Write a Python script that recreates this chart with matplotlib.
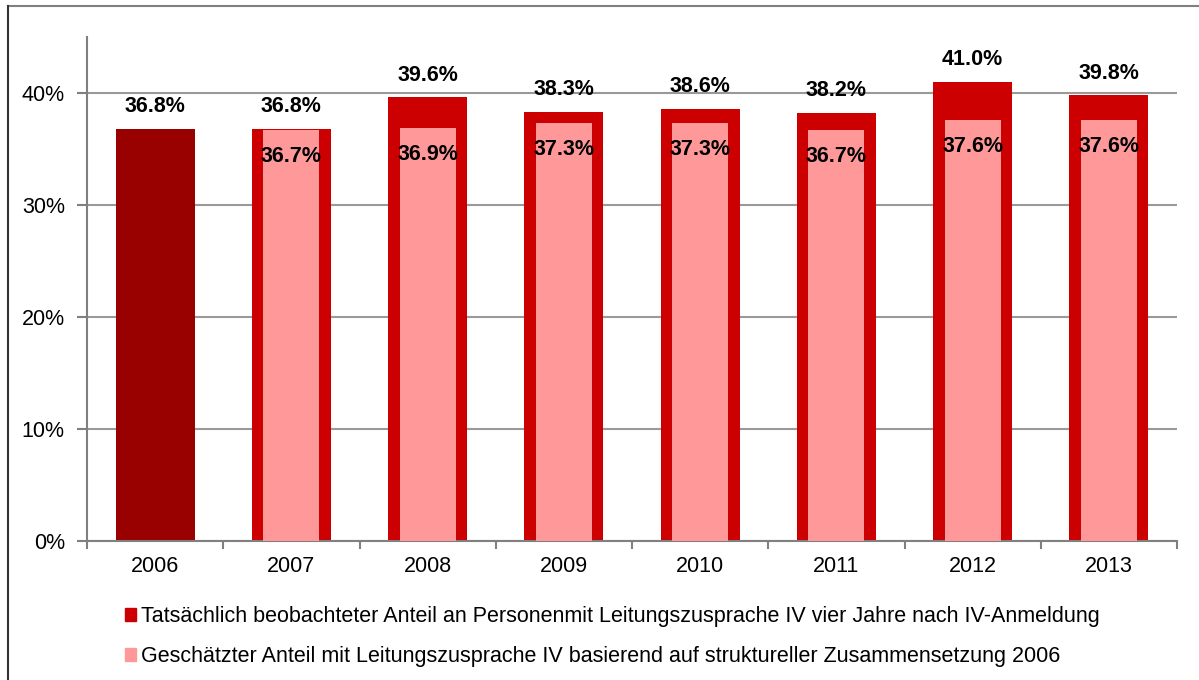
import matplotlib.pyplot as plt
import numpy as np
from matplotlib.lines import Line2D
from matplotlib.patches import Patch

plt.rcParams['font.family'] = ['Liberation Sans', 'DejaVu Sans']

years = ['2006', '2007', '2008', '2009', '2010', '2011', '2012', '2013']
beobachtet = [36.8, 36.8, 39.6, 38.3, 38.6, 38.2, 41.0, 39.8]
geschaetzt = [None, 36.7, 36.9, 37.3, 37.3, 36.7, 37.6, 37.6]
legend_labels = ['Tatsächlich beobachteter Anteil an Personenmit Leitungszusprache IV vier Jahre nach IV-Anmeldung',
                 'Geschätzter Anteil mit Leitungszusprache IV basierend auf struktureller Zusammensetzung 2006']

c_dark = '#990000'
c_red = '#CC0000'
c_pink = '#FF9999'
c_grid = '#999999'
fs = 15.5

fig = plt.figure(figsize=(11.99, 6.8), dpi=100)
ax = fig.add_axes([87/1199, 1-541/680, (1177-87)/1199, (541-37)/680])

x = np.arange(len(years))
colors = [c_dark] + [c_red]*(len(years)-1)
ax.bar(x, beobachtet, width=0.58, color=colors, zorder=2)
est_x = [i for i, v in enumerate(geschaetzt) if v is not None]
est_v = [v for v in geschaetzt if v is not None]
ax.bar(est_x, est_v, width=0.41, color=c_pink, zorder=3)

# Beschriftungen
for i, v in enumerate(beobachtet):
    ax.annotate(f'{v:.1f}%', xy=(i, v), xytext=(0, 16), textcoords='offset points',
                ha='center', va='center', fontsize=fs, fontweight='bold', zorder=5)
for i, v in zip(est_x, est_v):
    ax.annotate(f'{v:.1f}%', xy=(i, v), xytext=(0, -19), textcoords='offset points',
                ha='center', va='center', fontsize=fs, fontweight='bold', zorder=5)

ax.set_xlim(-0.5, len(years)-0.5)
ax.set_ylim(0, 45)
ax.set_yticks([0, 10, 20, 30, 40])
ax.set_yticklabels(['0%', '10%', '20%', '30%', '40%'], fontsize=fs)
ax.set_xticks(x)
ax.set_xticklabels(years, fontsize=fs)
ax.tick_params(axis='x', length=0, pad=11)
ax.set_xticks(np.arange(-0.5, len(years)), minor=True)
ax.tick_params(axis='x', which='minor', length=6, width=1.5, color='#808080')
ax.tick_params(axis='y', length=7, width=1.5, color='#808080', pad=9)

ax.yaxis.grid(True, color=c_grid, linewidth=1.5, zorder=1)
ax.set_axisbelow(True)
for s in ['top', 'right']:
    ax.spines[s].set_visible(False)
for s in ['left', 'bottom']:
    ax.spines[s].set_color('#808080')
    ax.spines[s].set_linewidth(1.5)

handles = [Patch(color=c_red), Patch(color=c_pink)]
fig.legend(handles, legend_labels, loc='upper left', bbox_to_anchor=(110/1199, 1-591/680),
           frameon=False, fontsize=fs, handlelength=0.5, handleheight=0.5,
           handletextpad=0.25, labelspacing=0.88, borderpad=0.2)

# Rahmen um die Grafik
fig.add_artist(Line2D([8/1199, 1], [1-6/680, 1-6/680], color='#808080', linewidth=1.5))
fig.add_artist(Line2D([8/1199, 8/1199], [0, 1-6/680], color='#333333', linewidth=1.5))

fig.savefig('out.png', dpi=100)
